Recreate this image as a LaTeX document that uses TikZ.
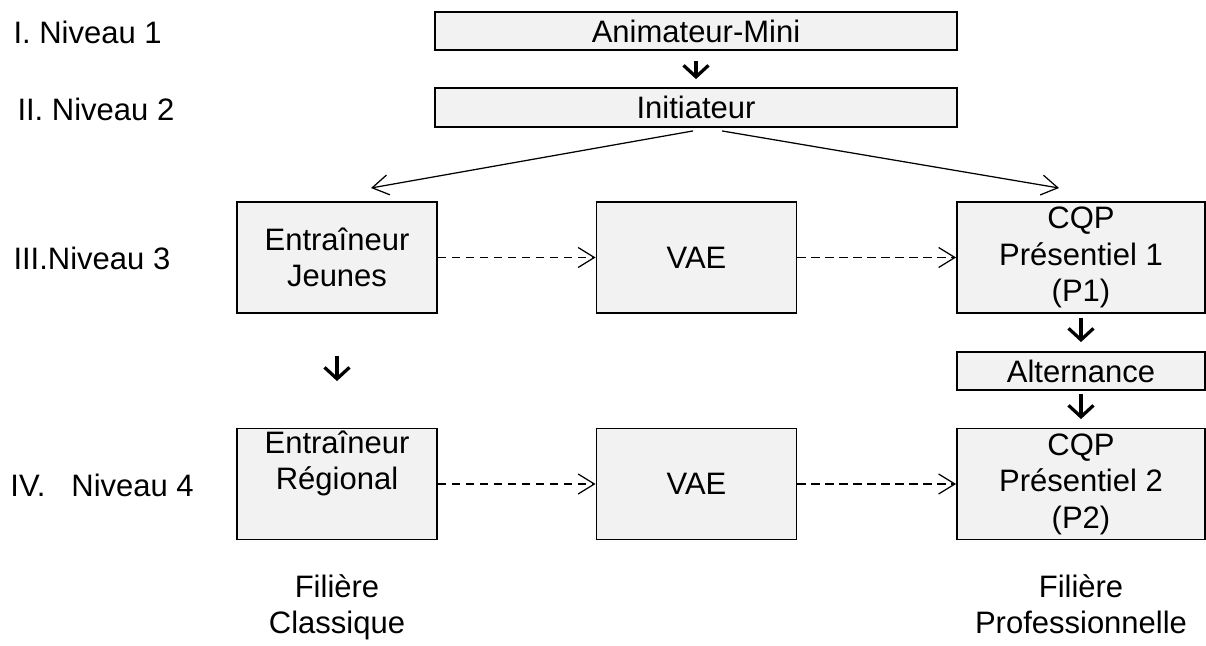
\documentclass[tikz,border=0pt]{standalone}
\usepackage{fontspec}
\setmainfont{Liberation Sans}
\usetikzlibrary{arrows.meta,calc}
\definecolor{boxfill}{RGB}{242,242,242}

\begin{document}
\begin{tikzpicture}[x=0.4pt,y=-0.4pt,
        every node/.style={font=\fontsize{12.4}{14.6}\selectfont,align=center},
        level/.style={anchor=west,inner sep=0pt},
        track/.style={anchor=north,inner sep=0pt},
        link/.style={line width=0.5pt,-{Straight Barb[length=6.5pt,width=8pt]}},
        dashlink/.style={link,dash pattern=on 3.3pt off 2.3pt},
        drop/.style={line width=1.3pt,-{Straight Barb[length=4.6pt,width=10pt]}}]
        \useasboundingbox (0,0) rectangle (1206,646);
        \begin{scope}[every node/.append style={draw,line width=0.75pt,fill=boxfill,inner sep=0pt,minimum height=44.4pt}]
            \node[minimum width=208.8pt,minimum height=15.2pt] (anim) at (696,31) {Animateur-Mini};
            \node[minimum width=208.8pt,minimum height=15.6pt] (init) at (696,107.5) {Initiateur};
            \node[minimum width=80pt] (ej) at (337,257.5) {Entraîneur\\Jeunes};
            \node[minimum width=80pt] (vae1) at (696.5,257.5) {VAE};
            \node[minimum width=99.2pt] (cqp1) at (1081,257.5) {CQP\\Présentiel 1\\(P1)};
            \node[minimum width=99.2pt,minimum height=15.2pt] (alt) at (1081,371) {Alternance};
            \node[minimum width=80pt] (er) at (337,484) {Entraîneur\\Régional\\\strut};
            \node[minimum width=80pt] (vae2) at (696.5,484) {VAE};
            \node[minimum width=99.2pt] (cqp2) at (1081,484) {CQP\\Présentiel 2\\(P2)};
        \end{scope}
        \node[level] (niv1) at (13,32) {I. Niveau 1};
        \node[level] (niv2) at (17,109) {II. Niveau 2};
        \node[level] (niv3) at (13,258) {III.Niveau 3};
        \node[level] (niv4) at (10,485) {IV.~~~Niveau 4};
        \node[track] (filcl) at (337,574) {Filière\\Classique};
        \node[track] (filpro) at (1081,574) {Filière\\Professionnelle};
        \coordinate (ej-in) at (371,188);
        \coordinate (cqp-in) at (1059,188);
        \draw [drop] ($(anim.south)+(0,10)$) -- ($(init.north)+(0,-8)$);
        \draw [link] ($(init.south)+(-3,3)$) -- (ej-in);
        \draw [link] ($(init.south)+(26,3)$) -- (cqp-in);
        \draw [dashlink] (ej.east) -- (vae1.west);
        \draw [dashlink] (vae1.east) -- (cqp1.west);
        \draw [drop] ($(ej.south)+(0,42)$) -- ($(er.north)+(0,-46.5)$);
        \draw [drop] ($(cqp1.south)+(0,4)$) -- ($(alt.north)+(0,-9)$);
        \draw [drop] ($(alt.south)+(0,3)$) -- ($(cqp2.north)+(0,-8.5)$);
        \draw [dashlink] (er.east) -- (vae2.west);
        \draw [dashlink] (vae2.east) -- (cqp2.west);
\end{tikzpicture}
\end{document}
